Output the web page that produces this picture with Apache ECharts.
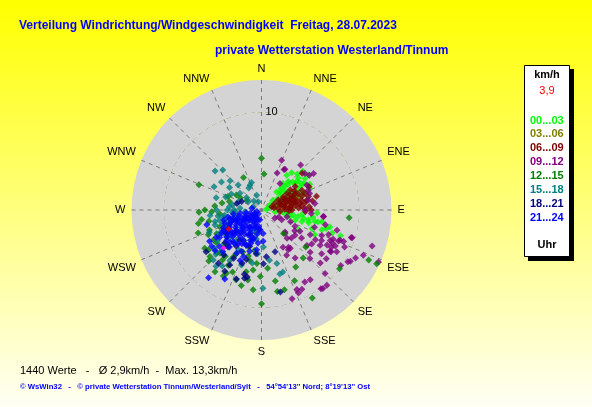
<!DOCTYPE html>
<html><head><meta charset="utf-8">
<script src="https://cdn.jsdelivr.net/npm/echarts@6/dist/echarts.min.js"></script>
<style>html,body{margin:0;padding:0;overflow:hidden;} #c{width:592px;height:407px;}</style>
</head><body><div id="c"></div>
<script>
const dirNames = ['N','NNE','NE','ENE','E','ESE','SE','SSE','S','SSW','SW','WSW','W','WNW','NW','NNW'];
const radiusTicks = [10];
const slotNames = ['00...03','03...06','06...09','09...12','12...15','15...18','18...21','21...24'];
const slotColors = ['#00ff00','#808000','#800000','#800080','#008000','#008080','#000080','#0000ff'];
// [speed km/h, direction deg]
const s0003 = [[4.4,36],[4.9,39],[4.0,43],[3.5,39],[3.4,45],[3.6,59],[3.1,64],[2.3,64],[1.9,68],[1.4,76],[1.0,60],[4.4,52],[5.0,49],[4.9,56],[6.0,53],[5.5,54],[4.6,59],[3.7,68],[4.0,70],[4.6,68],[5.4,66],[2.7,45],
[1.4,97],[2.1,95],[2.8,97],[3.3,99],[3.8,100],[4.4,101],[4.9,102],[3.6,107],[4.3,106],[5.6,102],[5.9,102],[5.5,110],[6.5,108],[6.9,106],[4.3,118],[8.5,108],[5.7,93],
[2.0,55],[2.5,52],[3.0,50],[1.5,50],[5.2,45],[5.8,47],[4.2,62],[3.2,55],[0.7,70],[0.5,85],[6.0,115],[7.2,104],[5.0,105],[2.5,100],
[3.8,46],[4.3,48],[4.7,51],[3.0,42],[2.4,40],[5.1,58],[5.6,62],[4.2,96],[5.3,98],[3.0,104],[6.3,101],[7.6,108]];
const s0306 = [[2.5,62],[3.0,66],[1.8,72],[3.4,76],[2.2,84],[3.9,70],[2.8,78],[3.2,86]];
const s0609 = [[1.5,64],[2.0,59],[2.1,76],[2.6,70],[2.9,70],[3.2,78],[3.5,82],[3.8,87],[4.2,76],[4.5,81],[4.1,66],[4.2,55],[5.6,48],[5.8,76],[5.1,90],[4.5,92],[2.8,92],[1.9,95],[1.1,72],[4.6,64],[3.6,55],[3.1,57],[2.6,59],[3.5,67],[3.7,74],[3.1,90],[5.0,74],[4.0,80],[2.4,82],[5.4,64],[4.8,69],
[2.2,66],[2.7,64],[3.3,62],[3.9,60],[4.4,71],[3.0,84],[2.4,88],[1.7,84],[4.9,86],[3.4,72],
[2.0,72],[2.5,76],[3.0,74],[3.6,78],[4.1,84],[4.4,88],[2.8,86],[3.3,68],[3.8,64],[4.7,78],[5.3,80],[1.3,80]];
const s0912 = [[5.5,22],[6.1,41],[4.1,23],[5.8,50],[6.5,55],[4.8,30],[3.3,35],[5.3,61],[5.2,67],[5.2,71],[4.9,78],[4.5,90],[5.1,94],[6.4,96],[6.7,103],[8.0,105],[6.7,113],[3.8,116],[3.2,112],[3.3,133],[4.2,133],[5.0,125],[4.9,143],[6.3,119],[7.0,121],[8.1,118],[9.7,107],[11.9,108],[8.6,111],[7.7,114],[5.6,117],[2.3,116],[2.7,105],[1.9,112],[1.6,122],[5.5,83],
[3.4,135],[4.3,127],[4.5,119],[6.2,124],[6.9,117],[7.6,118],[8.0,115],[8.2,121],[8.5,112],[9.0,111],[9.6,107],[11.4,114],[10.8,117],[10.3,121],[13.1,114],[4.9,146],[5.3,151],[8.6,149],[8.7,145],[8.9,156],[9.3,156],[9.2,135],[10.1,143],[10.2,139],[9.6,161],
[8.3,121],[8.3,127],[8.1,132],[10.2,142],[9.1,153],[7.0,135],[4.7,144],[10.5,120],[6.35,96],[6.05,54],[4.75,29],
[7.3,110],[7.9,112],[8.4,116],[9.3,114],[5.9,128],[6.6,131],[7.6,126],[3.9,138],[4.4,150],[6.0,145],[5.7,108],[4.0,122],[8.8,119],[9.9,125]];
const s1215 = [[5.3,0],[3.7,4],[3.8,331],[6.9,292],[3.7,292],[1.8,304],[6.2,261],[6.9,250],[7.0,236],[6.1,224],[7.9,217],[6.6,211],[6.5,194],[8.2,186],[9.6,180],[6.8,181],[7.4,169],[8.5,169],[8.5,164],[8.0,155],[6.8,149],[5.9,130],[6.5,139],[10.4,150],[10.0,127],[9.0,95],[12.1,115],[13.0,115],[3.3,137],[6.0,174],
[5.1,268],[4.3,265],[3.4,285],[3.0,301],[4.6,248],[5.7,249],[5.8,238],[6.5,218],[5.6,211],[4.7,204],[5.3,193],[5.5,185],[7.4,209],[7.6,200],[7.3,191],[7.1,228],[5.7,234],
[4.8,275],[5.5,258],[6.0,245],[4.5,232],[5.0,225],[6.0,218],[7.0,205],[8.0,195],[5.2,210],[4.0,200],[3.6,210],[6.8,233],[7.5,226],[3.0,255],[5.8,270],[2.5,300],
[6.6,258],[6.4,268],[4.1,280],[5.2,242],[6.3,226],[4.9,196],[6.2,188],[7.8,210],[4.2,190]];
const s1518 = [[5.7,316],[5.0,305],[3.5,317],[2.8,335],[2.6,330],[3.0,340],[2.8,308],[3.3,276],[4.0,260],[4.9,256],[4.9,241],[6.2,231],[5.9,224],[6.1,212],[4.7,210],[4.2,230],[3.3,231],[2.1,241],[5.1,225],[8.0,179],[6.7,161],[5.2,171],[3.8,177],[2.4,192],[1.6,229],[0.9,292],[1.7,264],[2.7,266],[2.6,255],[2.7,230],[4.0,245],[7.4,219],[7.1,224],[6.8,164],[5.7,164],[1.6,302],[1.6,342],[0.9,338],
[3.0,265],[3.5,270],[4.5,262],[5.0,252],[4.2,250],[3.8,245],[4.5,238],[5.5,235],[3.0,280],[2.5,290],[3.5,298],[4.0,305],[2.0,310],[1.2,320],[5.2,228],[6.5,226],[2.2,200],[3.0,190],[4.5,185],[5.5,190],[6.0,200],[4.0,220],[7.0,215],
[3.8,262],[4.6,270],[5.3,264],[4.4,256],[5.8,247],[3.6,252],[2.2,275],[2.8,270],[4.8,285],[3.9,290],[5.4,296],[6.2,310],[4.4,313]];
const s1821 = [[7.2,194],[7.0,192],[7.3,211],[7.1,233],[7.0,219],[5.7,210],[4.5,162],[8.6,167],[4.8,174],[4.5,187],[3.9,198],[3.8,216],[2.6,285],[2.2,293],[4.3,236],[5.3,197],[5.1,222],[5.5,178],
[5.0,228],[4.5,215],[6.0,220],[6.5,210],[5.8,200],[3.5,230],[4.0,240],[6.8,195],[7.5,200],[2.8,205]];
const s2124 = [[5.8,255],[8.8,218],[8.0,208],[6.3,229],[5.1,237],[5.0,221],[5.1,201],[4.1,187],[2.4,176],[2.8,248],[3.7,242],[2.1,215],[3.2,196],[3.6,211],[3.8,231],[4.4,242],[1.7,246],[2.2,261],[4.7,229],[5.1,210],[1.8,197],[1.0,190],[1.2,254],[0.85,233],[2.9,225],[2.9,208],[3.4,186],[4.4,219],[3.35,255],[4.0,250],[5.7,229],[6.3,234],[4.7,206],[4.4,196],[3.2,177],[2.05,185],[2.1,241],[1.0,280],[0.5,252],[3.3,231],[4.2,235],[4.35,222],[3.9,203],[5.6,203],[5.8,223],[5.4,239],[6.2,239],
[0.5,220],[1.0,215],[1.5,225],[2.0,230],[2.5,235],[3.0,240],[1.3,240],[1.8,250],[2.4,255],[1.5,205],[2.0,200],[2.6,205],[3.0,215],[3.4,225],[3.8,235],[2.8,245],[3.2,250],[0.8,245],[2.2,215],[2.7,220],[1.1,200],[3.6,245],[4.0,228],[4.2,215],[3.9,205],[3.0,195],[2.5,190],[1.7,190],[2.0,185],[3.3,200],[4.5,232],[4.7,240],[4.0,255],[3.5,258],[2.9,262],
[1.2,230],[1.6,235],[2.3,225],[2.6,228],[3.1,222],[3.5,218],[3.7,228],[4.1,238],[4.3,245],[1.9,240],[2.2,245],[2.6,250],[3.0,253],[3.4,248],[1.4,212],[1.9,210],[2.4,210],[2.9,200],[3.6,198],[4.0,210],[4.6,224],[0.9,228],[1.6,260],[2.6,240],[3.2,236]];
const currentPoint = [[3.9,240]];
const extraPoint = [[5.5,225]];
const slotData = [s0003,s0306,s0609,s0912,s1215,s1518,s1821,s2124];

const FF = 'Liberation Sans, Arial, sans-serif';
const chart = echarts.init(document.getElementById('c'), null, {renderer:'canvas'});
const series = slotNames.map((n,i)=>({
  type:'scatter', coordinateSystem:'polar', name:n, data:slotData[i],
  symbol:'diamond', symbolSize:7, itemStyle:{color:slotColors[i]}, silent:true
}));
series.push({type:'scatter', coordinateSystem:'polar', name:'aktuell', data:currentPoint, symbol:'diamond', symbolSize:6, itemStyle:{color:'#ff0000'}, silent:true});
series.push({type:'scatter', coordinateSystem:'polar', name:'extra', data:extraPoint, symbol:'diamond', symbolSize:6, itemStyle:{color:'#ff00ff'}, silent:true});

function txt(t, x, y, color, weight){
  return {type:'text', z:10, x:x, y:y, style:{text:t, fill:color, font:weight+' 11px '+FF, textAlign:'center', textVerticalAlign:'middle', align:'center', verticalAlign:'middle'}};
}

chart.setOption({
  animation:false,
  backgroundColor:{type:'linear',x:0,y:0,x2:0,y2:1,colorStops:[{offset:0,color:'#ffff00'},{offset:1,color:'#fffff4'}]},
  title:[
    {text:'Verteilung Windrichtung/Windgeschwindigkeit  Freitag, 28.07.2023', left:19, top:20, padding:0, textStyle:{color:'#0000ff',fontWeight:'bold',fontSize:12,fontFamily:FF}},
    {text:'private Wetterstation Westerland/Tinnum', left:215, top:45, padding:0, textStyle:{color:'#0000ff',fontWeight:'bold',fontSize:12,fontFamily:FF}},
    {text:'1440 Werte   -   Ø 2,9km/h  -  Max. 13,3km/h', left:20, top:365, padding:0, textStyle:{color:'#000',fontWeight:'normal',fontSize:11,fontFamily:FF}},
    {text:"© WsWin32   -   © private Wetterstation Tinnum/Westerland/Sylt   -   54°54'13'' Nord; 8°19'13'' Ost", left:20, top:383, padding:0, textStyle:{color:'#0000ff',fontWeight:'bold',fontSize:7.7,fontFamily:FF}}
  ],
  polar:{center:[261.5,210], radius:130},
  angleAxis:{type:'value', min:0, max:360, interval:22.5, startAngle:90, clockwise:true,
    axisLine:{show:false}, axisTick:{show:false},
    axisLabel:{margin:6, color:'#000', fontSize:11, fontFamily:FF, formatter:v=>dirNames[Math.round(v/22.5)%16]},
    splitLine:{show:true, lineStyle:{color:'#7a7a7a', type:[4,4], width:1, cap:'butt'}}},
  radiusAxis:{type:'value', min:0, max:13.3, interval:10,
    axisLine:{show:false}, axisTick:{show:false},
    axisLabel:{margin:-4, align:'left', verticalAlign:'middle', color:'#000', fontSize:11, fontFamily:FF, formatter:v=>radiusTicks.indexOf(v)>=0?String(v):''},
    splitLine:{show:true, lineStyle:{color:['rgba(0,0,0,0)','#5a5a5a','rgba(0,0,0,0)'], type:[5,3], width:1.2}},
    splitArea:{show:true, areaStyle:{color:['#d4d4d4','#d4d4d4']}}},
  legend:{orient:'vertical', left:522, top:66.5, selectedMode:false,
    data:slotNames.map((n,i)=>({name:n, icon:'none', textStyle:{color:slotColors[i]}})),
    itemWidth:0, itemHeight:12, itemGap:2.4, padding:[48,4,35,3],
    textStyle:{fontWeight:'bold', fontSize:11, fontFamily:FF}, z:5},
  graphic:[
    {type:'rect', z:1, shape:{x:528, y:69, width:46, height:192}, style:{fill:'#000'}},
    {type:'rect', z:2, shape:{x:524.5, y:65.5, width:45, height:191}, style:{fill:'#fff', stroke:'#000', lineWidth:1}},
    txt('km/h', 547, 75, '#000', 'bold'),
    txt('3,9', 547, 91, '#ff0000', 'normal'),
    txt('Uhr', 547, 245, '#000', 'bold')
  ],
  series:series
});
</script></body></html>
